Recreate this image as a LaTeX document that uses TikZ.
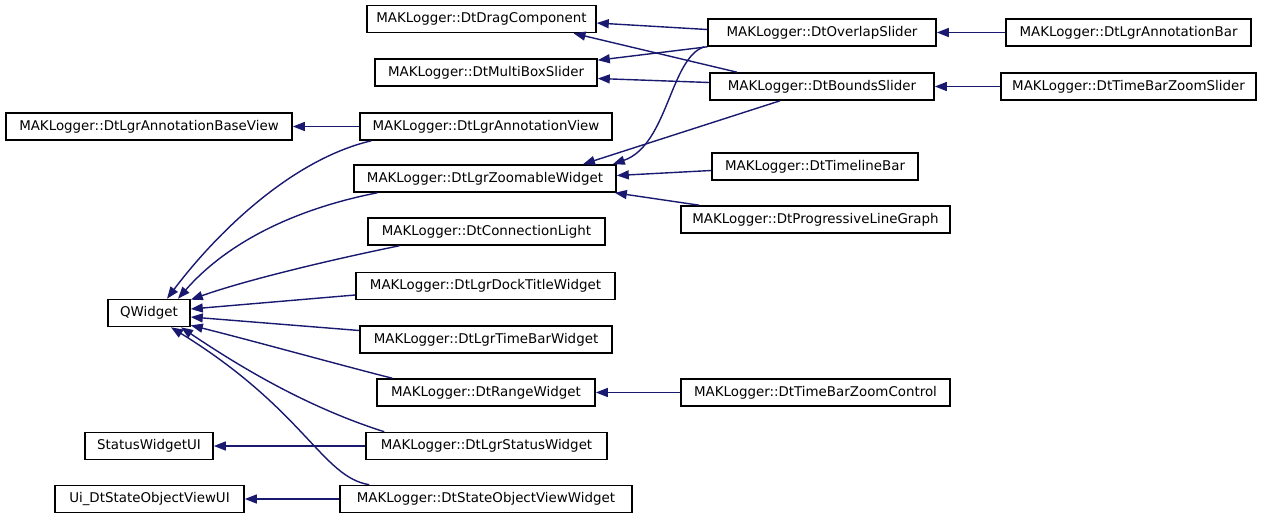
\documentclass[tikz,border=0pt]{standalone}
\usepackage{fontspec}
\setmainfont{DejaVu Sans}
\usetikzlibrary{arrows.meta}
\definecolor{edg}{RGB}{25,25,112}
\tikzset{
  cls/.style ={draw=black,line width=1.6pt,fill=white,inner sep=0pt,minimum height=27pt,font=\fontsize{13.4}{16}\selectfont},
  inh/.style ={-{Triangle[length=12pt,width=9pt]},line width=1.4pt,edg},
}
\begin{document}
\begin{tikzpicture}[x=1pt,y=-1pt]
\useasboundingbox (0,0) rectangle (1264,520);
% ===== base classes (left) =====
\node[cls,minimum width=286pt] (abv) at (149,126.5) {MAKLogger::DtLgrAnnotationBaseView};
\node[cls,minimum width=82pt] (qw) at (149,313) {QWidget};
\node[cls,minimum width=128pt] (swui) at (149,446) {StatusWidgetUI};
\node[cls,minimum width=189pt] (uisv) at (149.5,499) {Ui\_DtStateObjectViewUI};

% ===== middle column =====
\node[cls,minimum width=229pt] (drag) at (481.5,19) {MAKLogger::DtDragComponent};
\node[cls,minimum width=222pt] (mbs) at (486,72.5) {MAKLogger::DtMultiBoxSlider};
\node[cls,minimum width=252pt] (av) at (486,126.5) {MAKLogger::DtLgrAnnotationView};
\node[cls,minimum width=262pt] (zw) at (485,178.5) {MAKLogger::DtLgrZoomableWidget};
\node[cls,minimum width=237pt] (cl) at (486.5,231.5) {MAKLogger::DtConnectionLight};
\node[cls,minimum width=259pt] (dtw) at (485.5,286) {MAKLogger::DtLgrDockTitleWidget};
\node[cls,minimum width=252pt] (tbw) at (486,339.5) {MAKLogger::DtLgrTimeBarWidget};
\node[cls,minimum width=218pt] (rw) at (486,392.5) {MAKLogger::DtRangeWidget};
\node[cls,minimum width=241pt] (lsw) at (486.5,446) {MAKLogger::DtLgrStatusWidget};
\node[cls,minimum width=292pt] (sovw) at (486,499) {MAKLogger::DtStateObjectViewWidget};

% ===== right columns =====
\node[cls,minimum width=228pt] (ovl) at (822,32.5) {MAKLogger::DtOverlapSlider};
\node[cls,minimum width=224pt] (bnd) at (822,86.5) {MAKLogger::DtBoundsSlider};
\node[cls,minimum width=206pt] (tlb) at (815,166.5) {MAKLogger::DtTimelineBar};
\node[cls,minimum width=269pt] (plg) at (815.5,219.5) {MAKLogger::DtProgressiveLineGraph};
\node[cls,minimum width=269pt] (tbzc) at (815.5,392.5) {MAKLogger::DtTimeBarZoomControl};
\node[cls,minimum width=245pt] (annbar) at (1128.5,32.5) {MAKLogger::DtLgrAnnotationBar};
\node[cls,minimum width=255pt] (tbzs) at (1128.5,86.5) {MAKLogger::DtTimeBarZoomSlider};

% ===== inheritance, sliders =====
\draw[inh] (annbar.west) -- (ovl.east);
\draw[inh] (tbzs.west) -- (bnd.east);
\draw[inh] ([yshift=3pt]ovl.west) -- ([yshift=-4pt]drag.east);
\draw[inh] ([xshift=-85pt]bnd.north) -- ([xshift=92pt]drag.south);
\draw[inh] (ovl.south west) -- ([yshift=-2pt]mbs.north east);
\draw[inh] ([yshift=4pt]bnd.west) -- ([yshift=-6pt]mbs.east);
\draw[inh] ([xshift=-3pt]ovl.south west) .. controls (670,58) and (668,145) .. ([xshift=-4pt]zw.north east);
\draw[inh] ([xshift=-42pt]bnd.south) -- ([xshift=98pt]zw.north);
\draw[inh] ([yshift=-4pt]tlb.west) -- ([yshift=3pt]zw.east);
\draw[inh] ([xshift=19pt]plg.north west) -- ([xshift=-2pt]zw.south east);

% ===== inheritance, widgets =====
\draw[inh] (av.west) -- (abv.east);
\draw[inh] (tbzc.west) -- (rw.east);
\draw[inh] (lsw.west) -- (swui.east);
\draw[inh] (sovw.west) -- (uisv.east);
\draw[inh] ([xshift=12pt]av.south west) .. controls (290,160) and (215,235) .. ([xshift=18pt]qw.north);
\draw[inh] ([xshift=24pt]zw.south west) .. controls (290,210) and (225,245) .. ([xshift=29pt]qw.north);
\draw[inh] ([xshift=32pt]cl.south west) .. controls (320,262) and (240,282) .. ([yshift=-1pt]qw.north east);
\draw[inh] ([yshift=-9pt]dtw.west) -- ([yshift=4pt]qw.east);
\draw[inh] ([yshift=9pt]tbw.west) -- ([yshift=-4pt]qw.east);
\draw[inh] ([xshift=16pt]rw.north west) .. controls (340,365) and (250,340) .. ([yshift=2pt]qw.south east);
\draw[inh] ([xshift=19pt]lsw.north west) .. controls (300,405) and (230,360) .. ([xshift=32pt]qw.south);
\draw[inh] ([xshift=30pt]sovw.north west) .. controls (322,477) and (305,410) .. ([xshift=22pt]qw.south);
\end{tikzpicture}
\end{document}
